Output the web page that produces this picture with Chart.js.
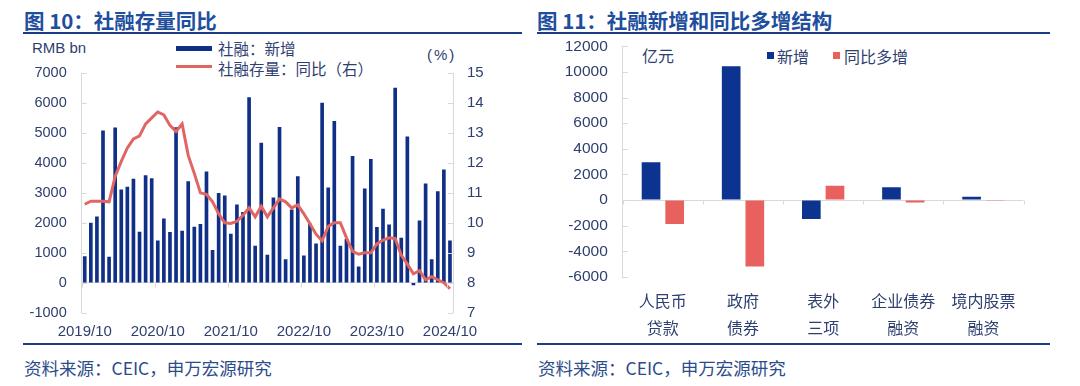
<!DOCTYPE html>
<html>
<head>
<meta charset="utf-8">
<script src="https://cdn.jsdelivr.net/npm/chart.js@4.4.1/dist/chart.umd.min.js"></script>
<style>
  html,body{margin:0;padding:0;background:#fff;}
  body{width:1080px;height:386px;position:relative;overflow:hidden;font-family:"Noto Sans CJK SC","Liberation Sans",sans-serif;}
  .abs{position:absolute;white-space:nowrap;}
  .title{font-size:20.5px;font-weight:bold;color:#1e4e9e;line-height:24px;top:8px;}
  .rule{position:absolute;height:2px;background:#1c3d84;}
  .src{font-size:17.5px;color:#2c4b8a;line-height:22px;top:357px;}
  .lab{color:#2f4070;line-height:20px;}
  .num{font-family:"Liberation Sans","Noto Sans CJK SC",sans-serif;}
  .cv{position:absolute;}
</style>
</head>
<body>
<div class="abs title" style="left:24px;">图 10：社融存量同比</div>
<div class="abs title" style="left:537px;">图 11：社融新增和同比多增结构</div>
<div class="rule" style="left:23px;width:499px;top:32px;"></div>
<div class="rule" style="left:537px;width:513px;top:32px;"></div>

<div class="abs lab num" style="left:32px;top:38px;font-size:15px;">RMB bn</div>
<div class="abs" style="left:176px;top:46px;width:36px;height:5px;background:#102f86;"></div>
<div class="abs lab" style="left:218px;top:38px;font-size:15.5px;">社融：新增</div>
<div class="abs" style="left:176px;top:64.5px;width:36px;height:3px;background:#e06663;"></div>
<div class="abs lab" style="left:218px;top:58px;font-size:15.5px;">社融存量：同比（右）</div>
<div class="abs lab num" style="left:427px;top:45px;font-size:15px;letter-spacing:2px;">(%)</div>

<div class="abs lab" style="left:642px;top:45px;font-size:16px;">亿元</div>
<div class="abs" style="left:767px;top:52px;width:7px;height:7px;background:#0d3390;"></div>
<div class="abs lab" style="left:777px;top:46px;font-size:16px;">新增</div>
<div class="abs" style="left:833px;top:52px;width:7px;height:7px;background:#e8615f;"></div>
<div class="abs lab" style="left:844px;top:46px;font-size:16px;">同比多增</div>

<div class="cv" style="left:0px;top:40px;width:520px;height:305px;"><canvas id="c1"></canvas></div>
<div class="cv" style="left:530px;top:22px;width:525px;height:323px;"><canvas id="c2"></canvas></div>

<div class="rule" style="left:23px;width:499px;top:343px;"></div>
<div class="rule" style="left:537px;width:513px;top:343px;"></div>
<div class="abs src" style="left:24px;">资料来源：CEIC，申万宏源研究</div>
<div class="abs src" style="left:538px;">资料来源：CEIC，申万宏源研究</div>

<script>
// ---------- Data: chart 1 (monthly, 2019/10 – 2024/10) ----------
const startYear = 2019, startMonth = 10;
const tsfNew = [ // 社融：新增, RMB bn
  870, 1990, 2200,
  5070, 860, 5170, 3100, 3190, 3460, 1690, 3580, 3480, 1400, 2130, 1680,
  5180, 1720, 3380, 1860, 1950, 3700, 1080, 2980, 2900, 1620, 2600, 2350,
  6180, 1220, 4660, 920, 2830, 5190, 770, 2430, 3540, 900, 1970, 1300,
  6000, 3170, 5390, 1220, 1450, 4220, 530, 3130, 4120, 1850, 2460, 1930,
  6500, 1490, 4870, -70, 2070, 3300, 770, 3040, 3770, 1400
];
const tsfYoY = [ // 社融存量：同比, %
  10.62, 10.72, 10.72,
  10.72, 10.7, 11.55, 12.05, 12.5, 12.8, 12.9, 13.3, 13.5, 13.7, 13.6, 13.25,
  13.05, 13.3, 12.25, 11.65, 11.0, 10.95, 10.7, 10.3, 10.0, 9.98, 10.05, 10.25,
  10.5, 10.2, 10.55, 10.2, 10.5, 10.8, 10.7, 10.5, 10.6, 10.3, 9.97, 9.62,
  9.4, 9.88, 10.0, 10.0, 9.5, 9.05, 8.95, 9.0, 9.0, 9.3, 9.42, 9.5,
  9.48, 8.92, 8.62, 8.3, 8.4, 8.1, 8.2, 8.1, 8.0, 7.8
];
const monthLabels = [];
for (let i = 0; i < tsfNew.length; i++) {
  const m0 = startMonth - 1 + i;
  const y = startYear + Math.floor(m0 / 12), m = (m0 % 12) + 1;
  monthLabels.push(y + '/' + (m < 10 ? '0' + m : m));
}
const leftTicks = { min: -1000, max: 7000, step: 1000 };
const rightTicks = { min: 7, max: 15, step: 1 };

// ---------- Data: chart 2 ----------
const structCategories = [["人民币","贷款"],["政府","债券"],["表外","三项"],["企业债券","融资"],["境内股票","融资"]];
const structNew = [2960, 10450, -1480, 1010, 260];     // 新增, 亿元
const structYoY = [-1860, -5180, 1110, -180, -20];     // 同比多增, 亿元
const structTicks = { min: -6000, max: 12000, step: 2000 };

// ---------- Styling ----------
const NAVY = '#102f86', NAVY2 = '#0d3390', RED_LINE = '#e06663', RED_BAR = '#e8615f';
const AXIS = '#d9d9d9', TXT = '#2f4070';
const NUMFONT = '"Liberation Sans","Noto Sans CJK SC",sans-serif';
const CJKFONT = '"Noto Sans CJK SC","Liberation Sans",sans-serif';
Chart.defaults.animation = false;
Chart.defaults.color = TXT;
const plainNum = v => String(v);

// decoration plugin: inward y ticks + small ticks on the zero line at category boundaries
const axisDecor = {
  id: 'axisDecor',
  afterDraw(chart, args, opts) {
    const { ctx, chartArea: a, scales } = chart;
    ctx.save();
    ctx.strokeStyle = AXIS; ctx.lineWidth = 1;
    (opts.yAxes || []).forEach(([id, dir]) => {
      const s = scales[id];
      const x = dir > 0 ? a.left : a.right;
      s.ticks.forEach(t => {
        const y = Math.round(s.getPixelForValue(t.value)) + 0.5;
        ctx.beginPath(); ctx.moveTo(x, y); ctx.lineTo(x + dir * 5, y); ctx.stroke();
      });
    });
    const xs = scales.x, ys = scales[opts.zeroAxis];
    const y0 = Math.round(ys.getPixelForValue(0)) + 0.5;
    const n = chart.data.labels.length, step = opts.every || 1;
    const w = (xs.right - xs.left) / n;
    for (let i = 0; i <= n; i += step) {
      const x = Math.round(xs.left + i * w) + 0.5;
      ctx.beginPath(); ctx.moveTo(x, y0); ctx.lineTo(x, y0 + 4); ctx.stroke();
    }
    ctx.restore();
  }
};

// ---------- Chart 1 ----------
new Chart(document.getElementById('c1'), {
  data: {
    labels: monthLabels,
    datasets: [
      { type: 'line', label: '社融存量：同比（右）', data: tsfYoY, yAxisID: 'y1', borderColor: RED_LINE,
        borderWidth: 3, pointRadius: 0, tension: 0, order: 0 },
      { type: 'bar', label: '社融：新增', data: tsfNew, yAxisID: 'y', backgroundColor: NAVY,
        barThickness: 3, order: 1 }
    ]
  },
  options: {
    responsive: true, maintainAspectRatio: false,
    layout: { padding: { top: 33, left: 0, right: 0, bottom: 0 } },
    plugins: { legend: { display: false }, tooltip: { enabled: false },
      axisDecor: { yAxes: [['y', 1], ['y1', -1]], zeroAxis: 'y', every: 12 } },
    scales: {
      x: {
        offset: true,
        grid: { display: false, drawTicks: false },
        border: { display: false },
        ticks: { autoSkip: false, maxRotation: 0, minRotation: 0, padding: 10,
          font: { family: NUMFONT, size: 15 }, color: TXT,
          callback: (v, i) => (i % 12 === 0 ? monthLabels[i] : '') },
        afterFit: s => { s.height = 32.3; }
      },
      y: {
        position: 'left', min: leftTicks.min, max: leftTicks.max,
        ticks: { stepSize: leftTicks.step, padding: 15, font: { family: NUMFONT, size: 14.5 }, color: TXT, callback: plainNum },
        grid: { drawTicks: false, color: c => (c.tick && c.tick.value === 0 ? AXIS : 'rgba(0,0,0,0)') },
        border: { display: true, color: AXIS },
        afterFit: s => { s.width = 81.7; }
      },
      y1: {
        position: 'right', min: rightTicks.min, max: rightTicks.max,
        ticks: { stepSize: rightTicks.step, padding: 14, font: { family: NUMFONT, size: 15 }, color: TXT, callback: plainNum },
        grid: { display: false, drawTicks: false },
        border: { display: true, color: AXIS },
        afterFit: s => { s.width = 67; }
      }
    }
  },
  plugins: [axisDecor]
});

// ---------- Chart 2 ----------
new Chart(document.getElementById('c2'), {
  type: 'bar',
  data: {
    labels: structCategories,
    datasets: [
      { label: '新增', data: structNew, backgroundColor: NAVY2, categoryPercentage: 0.59, barPercentage: 0.79 },
      { label: '同比多增', data: structYoY, backgroundColor: RED_BAR, categoryPercentage: 0.59, barPercentage: 0.79 }
    ]
  },
  options: {
    responsive: true, maintainAspectRatio: false,
    layout: { padding: { top: 15, left: 0, right: 31.5, bottom: 0 } },
    plugins: { legend: { display: false }, tooltip: { enabled: false },
      axisDecor: { yAxes: [['y', 1]], zeroAxis: 'y', every: 1 } },
    scales: {
      x: {
        grid: { display: false, drawTicks: false },
        border: { display: false },
        ticks: { autoSkip: false, maxRotation: 0, minRotation: 0, padding: 11,
          font: { family: CJKFONT, size: 16, lineHeight: 1.66 }, color: TXT },
        afterFit: s => { s.height = 68; }
      },
      y: {
        min: structTicks.min, max: structTicks.max,
        ticks: { stepSize: structTicks.step, padding: 15, font: { family: NUMFONT, size: 15.5 }, color: TXT, callback: plainNum },
        grid: { drawTicks: false, color: c => (c.tick && c.tick.value === 0 ? AXIS : 'rgba(0,0,0,0)') },
        border: { display: true, color: AXIS },
        afterFit: s => { s.width = 92.8; }
      }
    }
  },
  plugins: [axisDecor]
});
</script>
</body>
</html>
